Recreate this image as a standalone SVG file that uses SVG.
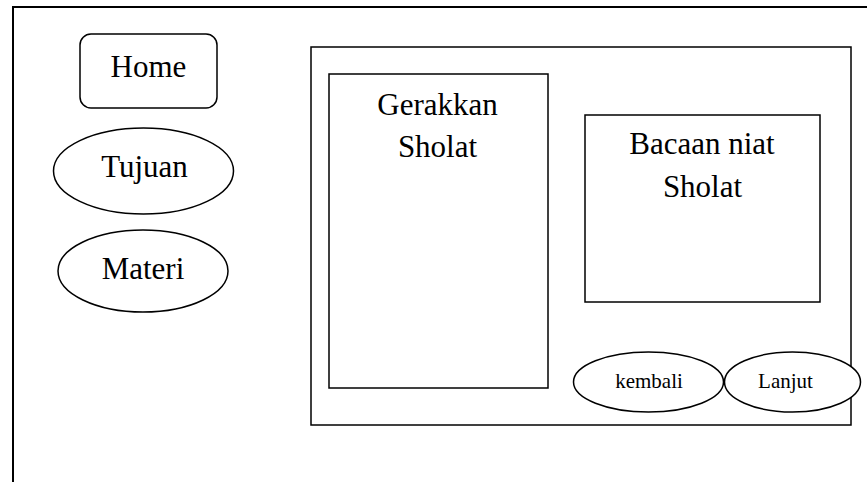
<svg xmlns="http://www.w3.org/2000/svg" width="867" height="482" viewBox="0 0 867 482">
<style>
.s{fill:#fff;stroke:#000;stroke-width:1.5}
.t{font-family:'Liberation Serif','Times New Roman',serif;font-size:31px;text-anchor:middle;fill:#000}
.m{font-family:'Liberation Serif','Times New Roman',serif;font-size:21px;text-anchor:middle;fill:#000}
</style>
<rect width="867" height="482" fill="#fff"/>
<g id="frame"><polyline points="13,482 13,7 867,7" fill="none" stroke="#000" stroke-width="2"/></g>
<g id="home"><rect class="s" x="80" y="34" width="137" height="74" rx="11"/><text class="t" x="148.5" y="77">Home</text></g>
<g id="tujuan"><ellipse class="s" cx="143.5" cy="171" rx="90" ry="43"/><text class="t" x="144.5" y="177">Tujuan</text></g>
<g id="materi"><ellipse class="s" cx="143" cy="271" rx="85" ry="41"/><text class="t" x="143" y="279">Materi</text></g>
<g id="content"><rect class="s" x="311" y="47" width="540" height="378"/></g>
<g id="gerakkan"><rect class="s" x="329" y="74" width="219" height="314"/><text class="t" x="437.5" y="115">Gerakkan</text><text class="t" x="437.5" y="157">Sholat</text></g>
<g id="bacaan"><rect class="s" x="585" y="115" width="235" height="187"/><text class="t" x="702" y="154">Bacaan niat</text><text class="t" x="702.5" y="197">Sholat</text></g>
<g id="kembali"><ellipse class="s" cx="648.5" cy="382" rx="75" ry="30"/><text class="m" x="649" y="388">kembali</text></g>
<g id="lanjut"><ellipse class="s" cx="792.5" cy="382" rx="68" ry="30"/><text class="m" x="785.5" y="388">Lanjut</text></g>
<g id="connectors"/>
</svg>
